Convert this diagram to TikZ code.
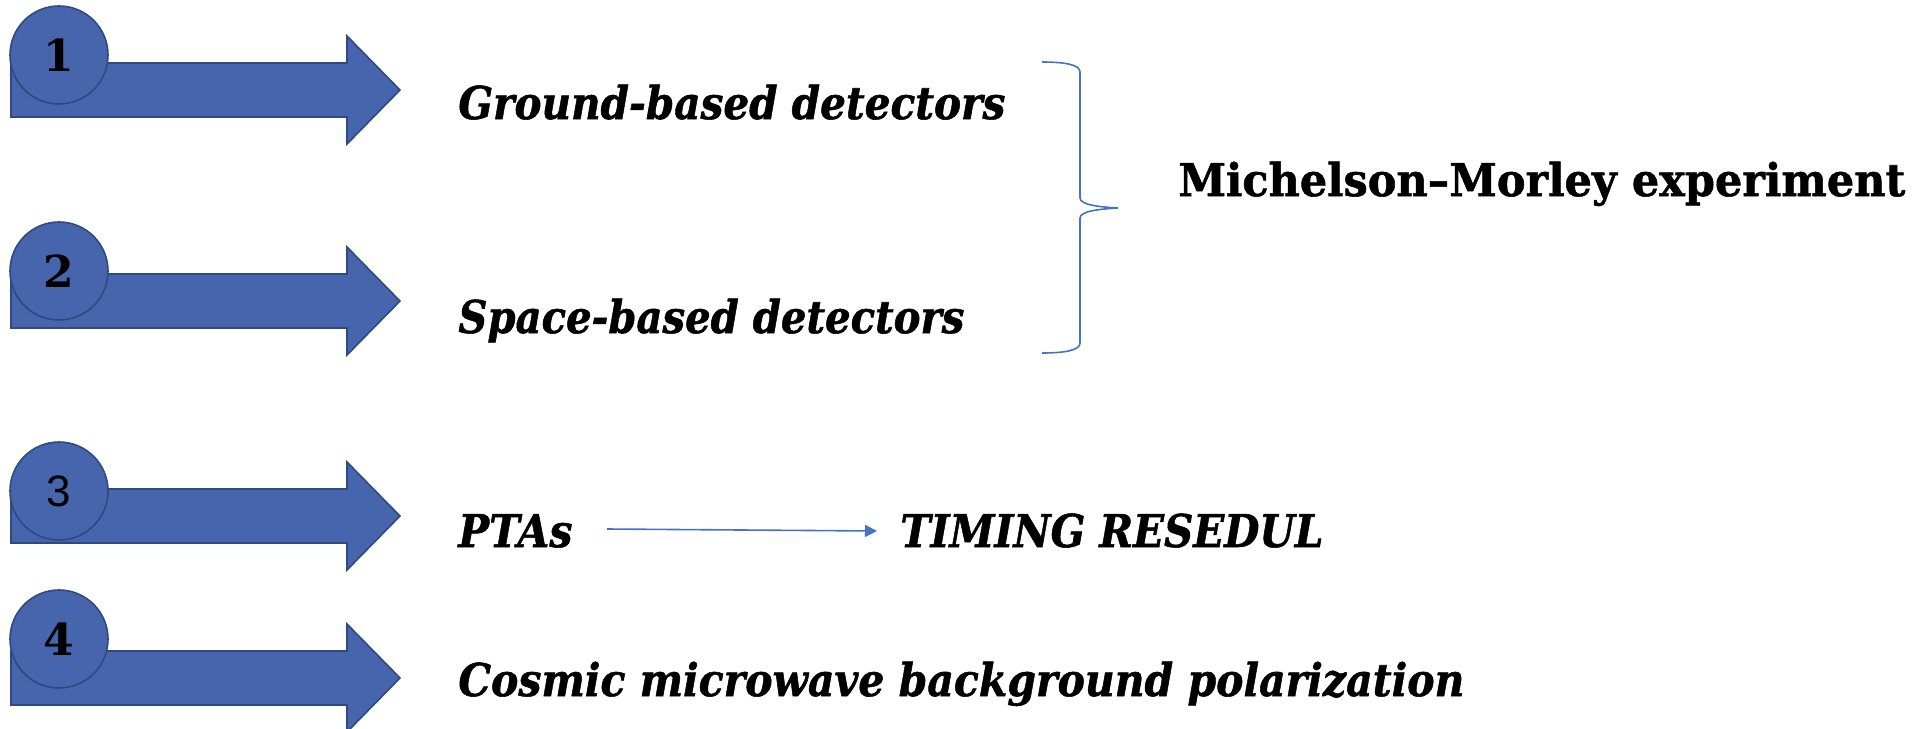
\documentclass[tikz,border=0pt]{standalone}
\usepackage{fontspec}
\usepackage{graphicx}
\newfontfamily\slabfont{DejaVu Serif}
\newfontfamily\slabheavy{DejaVu Serif}[BoldFeatures={FakeBold=1.2},BoldItalicFeatures={FakeBold=1.2}]
\newfontfamily\digitsans{Liberation Sans}
\usetikzlibrary{arrows.meta}
\definecolor{arrowfill}{HTML}{4765AD}
\definecolor{arrowedge}{HTML}{2F4A7E}
\definecolor{linkblue}{HTML}{4472C4}
\tikzset{
  bigarrow/.style={fill=arrowfill,draw=arrowedge,line width=0.8pt,line join=miter},
  numdisc/.style={circle,fill=arrowfill,draw=arrowedge,line width=0.8pt,minimum size=49pt,inner sep=0pt,
    font=\slabfont\bfseries\fontsize{22}{22}\selectfont},
  itlabel/.style={anchor=base west,inner sep=0pt,font=\slabheavy\bfseries\itshape\fontsize{22.6}{24}\selectfont},
  bflabel/.style={anchor=base west,inner sep=0pt,font=\slabheavy\bfseries\fontsize{22.6}{24}\selectfont},
  conn/.style={draw=linkblue,line width=0.8pt,-{Triangle[length=6pt,width=6pt]}},
  bracestyle/.style={draw=linkblue,line width=0.8pt}
}
\begin{document}
\begin{tikzpicture}[x=0.5pt,y=-0.5pt]
\useasboundingbox (0,0) rectangle (1921,728);
% block arrows
\foreach \c in {90,301,516,678}{
  \path[bigarrow] (11,{\c-27}) -- (347,{\c-27}) -- (347,{\c-54}) -- (400,\c) -- (347,{\c+54}) -- (347,{\c+27}) -- (11,{\c+27}) -- cycle;
}
% numbered discs
\node[numdisc] (n1) at (59,55) {1};
\node[numdisc] (n2) at (59,271) {2};
\node[numdisc,font=\digitsans\fontsize{22}{22}\selectfont] (n3) at (59,491) {3};
\node[numdisc] (n4) at (59,639) {4};
% labels
\node[itlabel] (ground) at (458,119) {\resizebox{273.5pt}{\height}{Ground-based detectors}};
\node[itlabel] (space) at (458,333) {\resizebox{253pt}{\height}{Space-based detectors}};
\node[itlabel] (ptas) at (458,547) {\resizebox{57pt}{\height}{PTAs}};
\node[itlabel] (timing) at (900,547) {\resizebox{211.5pt}{\height}{TIMING RESEDUL}};
\node[itlabel] (cmb) at (458,696) {\resizebox{503pt}{\height}{Cosmic microwave background polarization}};
\node[bflabel] (mm) at (1178,196) {\resizebox{363.5pt}{\height}{Michelson–Morley experiment}};
% connector
\draw[conn] ([xshift=17pt,yshift=9pt]ptas.base east) -- ([xshift=-11.5pt,yshift=8pt]timing.base west);
% brace
\path[bracestyle] (1042,62) .. controls (1066,62) and (1080,65) .. (1080,72)
  -- (1080,198) .. controls (1080,205) and (1100,207) .. (1118,208)
  .. controls (1100,209) and (1080,211) .. (1080,218)
  -- (1080,343) .. controls (1080,350) and (1066,353) .. (1042,353);
\end{tikzpicture}
\end{document}
